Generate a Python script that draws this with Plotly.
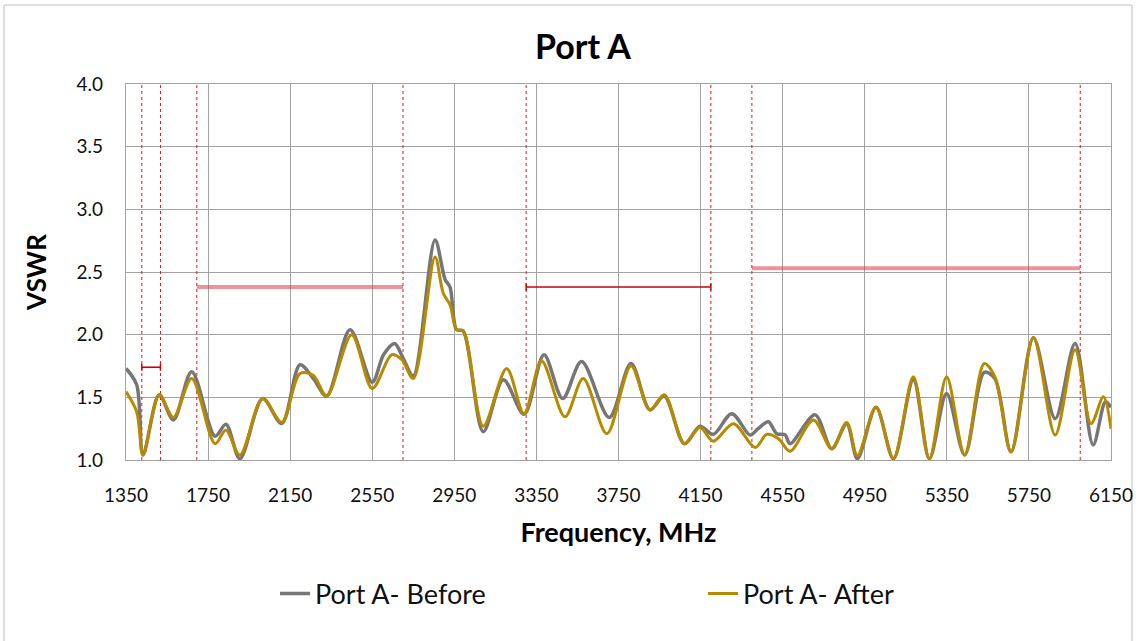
import plotly.graph_objects as go

# ---------------- data ----------------
freq_before = [1350, 1402, 1433, 1512, 1581, 1670, 1784, 1837, 1905, 2016, 2109, 2198, 2263, 2328,
               2442, 2550, 2605, 2659, 2701, 2750, 2856, 2905, 2929, 2961, 2993, 3091, 3189, 3290,
               3387, 3478, 3570, 3705, 3811, 3903, 3973, 4071, 4147, 4212, 4302, 4391, 4430, 4480,
               4521, 4562, 4586, 4708, 4789, 4862, 4914, 5005, 5090, 5187, 5265, 5349, 5437, 5532,
               5584, 5663, 5772, 5878, 5975, 6063, 6123, 6150]
vswr_before = [1.73, 1.60, 1.04, 1.52, 1.32, 1.705, 1.19, 1.285, 1.01, 1.49, 1.29, 1.76, 1.65, 1.51,
               2.04, 1.62, 1.84, 1.93, 1.81, 1.67, 2.755, 2.44, 2.38, 2.04, 2.03, 1.226, 1.64, 1.365,
               1.84, 1.49, 1.785, 1.34, 1.77, 1.40, 1.51, 1.13, 1.27, 1.205, 1.37, 1.20, 1.25, 1.305,
               1.21, 1.20, 1.13, 1.36, 1.09, 1.29, 1.01, 1.42, 1.01, 1.64, 1.01, 1.53, 1.04, 1.70,
               1.65, 1.066, 1.976, 1.33, 1.93, 1.12, 1.465, 1.42]

freq_after = [1350, 1402, 1433, 1512, 1581, 1670, 1784, 1837, 1905, 2016, 2109, 2198, 2263, 2328,
              2450, 2550, 2645, 2694, 2750, 2856, 2896, 2929, 2961, 2993, 3091, 3205, 3290, 3375,
              3489, 3578, 3693, 3811, 3903, 3973, 4071, 4147, 4212, 4310, 4416, 4473, 4530, 4586,
              4700, 4789, 4862, 4914, 5005, 5090, 5187, 5265, 5349, 5437, 5532, 5584, 5663, 5772,
              5878, 5975, 6053, 6113, 6150]
vswr_after = [1.545, 1.385, 1.04, 1.52, 1.34, 1.65, 1.13, 1.24, 1.04, 1.49, 1.30, 1.69, 1.675, 1.51,
              2.00, 1.57, 1.84, 1.80, 1.65, 2.62, 2.33, 2.24, 2.04, 2.03, 1.27, 1.73, 1.37, 1.79,
              1.345, 1.65, 1.21, 1.75, 1.40, 1.52, 1.13, 1.26, 1.15, 1.29, 1.10, 1.205, 1.17, 1.07,
              1.32, 1.09, 1.30, 1.035, 1.42, 1.013, 1.665, 1.01, 1.665, 1.04, 1.77, 1.665, 1.066, 1.976,
              1.20, 1.88, 1.29, 1.505, 1.25]

# specification bands (start MHz, end MHz, VSWR limit, style)
band_start = [1427, 1695, 3300, 4400]
band_end = [1518, 2700, 4200, 6000]
band_limit = [1.74, 2.38, 2.38, 2.53]
band_style = ["dark", "light", "dark", "light"]

x_ticks = [1350, 1750, 2150, 2550, 2950, 3350, 3750, 4150, 4550, 4950, 5350, 5750, 6150]
y_ticks = [1.0, 1.5, 2.0, 2.5, 3.0, 3.5, 4.0]
y_min, y_max = 1.0, 4.0

FONT = "Lato"
fig = go.Figure()

# vertical dotted band edges
for s, e in zip(band_start, band_end):
    for xv in (s, e):
        fig.add_trace(go.Scatter(x=[xv, xv], y=[y_min, y_max], mode="lines",
                                 line=dict(color="#e8141b", width=1, dash="dot"),
                                 showlegend=False, hoverinfo="skip"))

# horizontal limit lines
for s, e, lim, st in zip(band_start, band_end, band_limit, band_style):
    if st == "light":
        fig.add_trace(go.Scatter(x=[s, e], y=[lim, lim], mode="lines",
                                 line=dict(color="rgba(220,60,72,0.55)", width=4),
                                 showlegend=False, hoverinfo="skip"))
    else:
        fig.add_trace(go.Scatter(x=[s, e], y=[lim, lim], mode="lines+markers",
                                 line=dict(color="#c8000a", width=1.6),
                                 marker=dict(symbol="line-ns", size=5,
                                             line=dict(color="#c8000a", width=1.5)),
                                 showlegend=False, hoverinfo="skip"))

fig.add_trace(go.Scatter(x=freq_before, y=vswr_before, mode="lines", name="Port A- Before",
                         line=dict(color="#767676", width=3.5, shape="spline", smoothing=0.9)))
fig.add_trace(go.Scatter(x=freq_after, y=vswr_after, mode="lines", name="Port A- After",
                         line=dict(color="#b88a00", width=3, shape="spline", smoothing=0.9)))

grid = "#a3a3a3"
fig.update_layout(
    width=1145, height=641,
    margin=dict(l=126, r=34, t=84, b=181),
    paper_bgcolor="white", plot_bgcolor="white",
    font=dict(family=FONT, color="#000000"),
    title=dict(text="<b>Port A</b>", x=(583 - 126) / 985, xref="paper", xanchor="center",
               y=1 - 47 / 641, yanchor="middle", font=dict(size=34, family=FONT, color="#000")),
    showlegend=True,
    legend=dict(orientation="h", x=(275 - 126) / 985, xanchor="left",
                y=(460 - 594) / 376, yanchor="middle",
                font=dict(size=27, family=FONT, color="#111"),
                entrywidth=383, entrywidthmode="pixels", bgcolor="rgba(0,0,0,0)"),
    xaxis=dict(range=[1350, 6150], tickvals=x_ticks, ticktext=[str(t) for t in x_ticks],
               showgrid=True, gridcolor=grid, gridwidth=1.3, zeroline=False,
               showline=True, linecolor=grid, linewidth=1.3, mirror=True,
               ticks="", ticklabelstandoff=18,
               tickfont=dict(size=19, family=FONT, color="#111"),
               title=dict(text="<b>Frequency, MHz</b>", standoff=18,
                          font=dict(size=27, family=FONT, color="#000"))),
    yaxis=dict(range=[y_min, y_max], tickvals=y_ticks, tickformat=".1f",
               showgrid=True, gridcolor=grid, gridwidth=1.3, zeroline=False,
               showline=True, linecolor=grid, linewidth=1.3, mirror=True,
               ticks="", ticklabelstandoff=18,
               tickfont=dict(size=19, family=FONT, color="#111"),
               title=dict(text="<b>VSWR</b>", standoff=22,
                          font=dict(size=26, family=FONT, color="#000"))),
)

# chart-area border (decorative frame)
fig.add_shape(type="rect", xref="paper", yref="paper",
              x0=(4 - 126) / 985, x1=(1132 - 126) / 985,
              y0=(460 - 660) / 376, y1=(460 - 5) / 376,
              line=dict(color="#c0c0c0", width=1), fillcolor="rgba(0,0,0,0)", layer="below")

fig.write_html("out.html", config={"displayModeBar": False},
               post_script="document.body.style.margin='0';")
